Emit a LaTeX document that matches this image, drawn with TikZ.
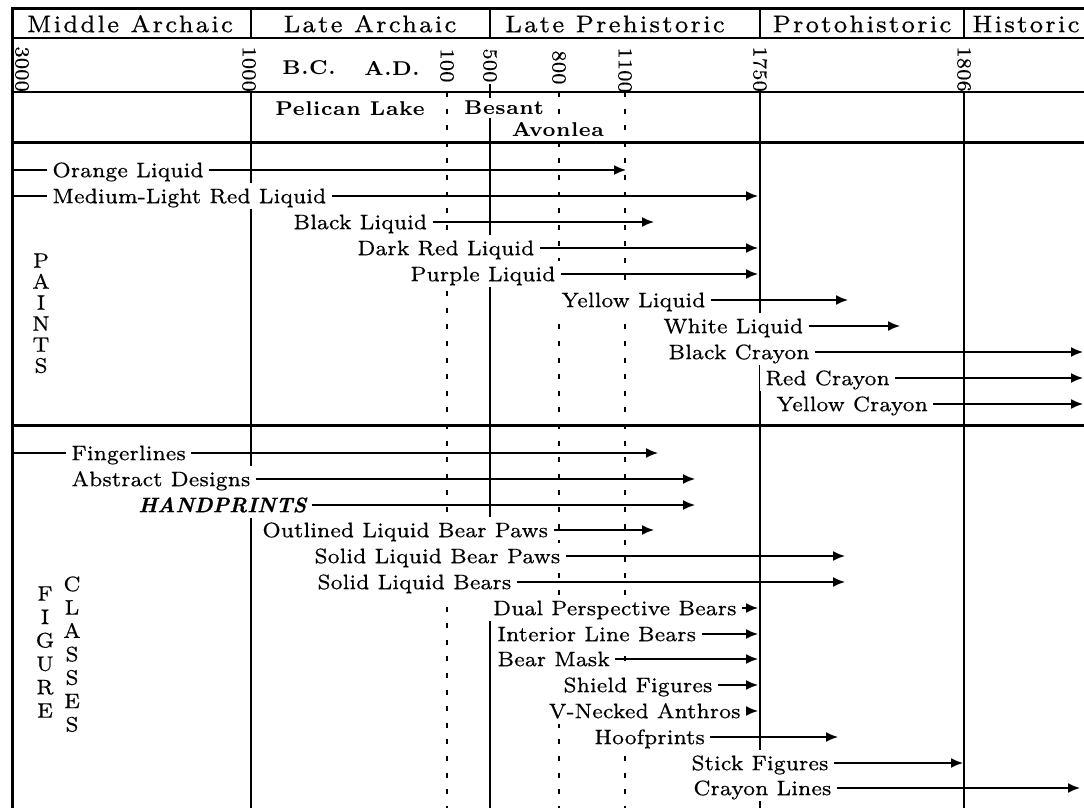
\documentclass[tikz,border=0pt]{standalone}
\usepackage{fontspec}
\setmainfont{lmroman7}[Extension=.otf,UprightFont=*-regular,BoldFont=*-bold,ItalicFont=*-italic,BoldItalicFont=lmroman10-bolditalic,FakeBold=0.5]
\newfontfamily\headfont{lmroman7}[Extension=.otf,UprightFont=*-regular,LetterSpace=8,FakeBold=0.6]
\newfontfamily\culturefont{lmroman7}[Extension=.otf,UprightFont=*-bold,LetterSpace=3]
\newfontfamily\datefont{lmroman7}[Extension=.otf,UprightFont=*-regular,FakeBold=0.5]
\usetikzlibrary{arrows.meta}

\tikzset{
  period/.style={font=\headfont\fontsize{12}{14}\selectfont, inner sep=0pt, text height=8.2pt, text depth=0pt},
  year/.style={font=\datefont\fontsize{10}{12}\selectfont, rotate=-90, anchor=west, inner sep=0pt},
  culture/.style={font=\culturefont\fontsize{10}{12}\selectfont, fill=white, inner sep=1.5pt},
  item/.style={font=\fontsize{10.5}{12}\selectfont, fill=white, anchor=west, inner xsep=2.5pt, inner ysep=0.5pt, text height=9.7pt, text depth=2.5pt},
  letters/.style={align=center, anchor=north, inner sep=0pt},
  rule/.style={line width=0.6pt},
  heavy/.style={line width=1.5pt},
  era/.style={line width=0.6pt, dash pattern=on 2.5pt off 5.8pt},
  lead/.style={line width=0.8pt},
  arrowline/.style={line width=0.8pt, -{Latex[length=6pt,width=5pt]}},
}

\begin{document}
\begin{tikzpicture}[x=0.5pt,y=-0.5pt]
  \useasboundingbox (0,0) rectangle (1084,808);

  \draw[heavy] (11,9) -- (1084,9) (12,8) -- (12,808);
  \draw[rule] (12,38) -- (1084,38) (12,92) -- (1084,92);
  \draw[heavy] (12,143) -- (1084,143) (12,426) -- (1084,426);
  \draw[rule] (251,9) -- (251,38) (251,92) -- (251,808);
  \draw[rule] (490,9) -- (490,38) (490,84) -- (490,808);
  \draw[rule] (760,9) -- (760,38) (760,92) -- (760,808);
  \draw[rule] (964,9) -- (964,38) (964,92) -- (964,808);
  \draw[era] (447,92) -- (447,808) (559,92) -- (559,808) (625,92) -- (625,808);

  \node[period] (midarch) at (130,24) {Middle Archaic};
  \node[period] (latearch) at (370,24) {Late Archaic};
  \node[period] (lateprehist) at (615,24) {Late Prehistoric};
  \node[period] (protohist) at (862,24) {Protohistoric};
  \node[period] (hist) at (1026,24) {Historic};

  \node[year] (y3000) at (22,46) {3000};
  \node[year] (y1000) at (249,46) {1000};
  \node[culture] (bc) at (309,68) {B.C.};
  \node[culture] (ad) at (392,68) {A.D.};
  \node[year] (y100) at (447,48) {100};
  \node[year] (y500) at (490,48) {500};
  \node[year] (y800) at (559,50) {800};
  \node[year] (y1100) at (625,47) {1100};
  \node[year] (y1750) at (760,46) {1750};
  \node[year] (y1806) at (964,46) {1806};

  \node[culture] (pelican) at (350,109) {Pelican Lake};
  \node[culture] (besant) at (504,108) {Besant};
  \node[culture] (avonlea) at (558,130) {Avonlea};

  \node[letters, font=\fontsize{10.5}{10.5}\selectfont] (paints) at (41,253) {P\\A\\I\\N\\T\\S};
  \node[letters, font=\fontsize{10.5}{11.7}\selectfont] (figure) at (45,586) {F\\I\\G\\U\\R\\E};
  \node[letters, font=\fontsize{10.5}{11.7}\selectfont] (classes) at (72,576) {C\\L\\A\\S\\S\\E\\S};

  \node[item] (orange) at (47,170) {Orange Liquid};
  \node[item] (medred) at (47,196) {Medium-Light Red Liquid};
  \node[item] (blackliq) at (288,222) {Black Liquid};
  \node[item] (darkred) at (352,248) {Dark Red Liquid};
  \node[item] (purple) at (405,274) {Purple Liquid};
  \node[item] (yellowliq) at (556,300) {Yellow Liquid};
  \node[item] (whiteliq) at (658,326) {White Liquid};
  \node[item] (blackcray) at (663,352) {Black Crayon};
  \node[item] (redcray) at (760,378) {Red Crayon};
  \node[item] (yellowcray) at (771,404) {Yellow Crayon};

  \coordinate (orange-s) at (12,170);
  \coordinate (medred-s) at (12,196);
  \coordinate (orange-e) at (626,170);
  \coordinate (medred-e) at (758,196);
  \coordinate (blackliq-e) at (654,222);
  \coordinate (darkred-e) at (758,248);
  \coordinate (purple-e) at (758,274);
  \coordinate (yellowliq-e) at (848,300);
  \coordinate (whiteliq-e) at (900,326);
  \coordinate (blackcray-e) at (1083,352);
  \coordinate (redcray-e) at (1083,378);
  \coordinate (yellowcray-e) at (1083,404);

  \draw[lead] (orange-s) -- (orange) (medred-s) -- (medred);
  \draw[arrowline] (orange) -- (orange-e);
  \draw[arrowline] (medred) -- (medred-e);
  \draw[arrowline] (blackliq) -- (blackliq-e);
  \draw[arrowline] (darkred) -- (darkred-e);
  \draw[arrowline] (purple) -- (purple-e);
  \draw[arrowline] (yellowliq) -- (yellowliq-e);
  \draw[arrowline] (whiteliq) -- (whiteliq-e);
  \draw[arrowline] (blackcray) -- (blackcray-e);
  \draw[arrowline] (redcray) -- (redcray-e);
  \draw[arrowline] (yellowcray) -- (yellowcray-e);

  \node[item] (finger) at (66,453) {Fingerlines};
  \node[item] (abstract) at (66,479) {Abstract Designs};
  \node[item] (hand) at (133,505) {\bfseries\itshape HANDPRINTS};
  \node[item] (outpaw) at (257,530) {Outlined Liquid Bear Paws};
  \node[item] (solpaw) at (309,556) {Solid Liquid Bear Paws};
  \node[item] (solbear) at (312,582) {Solid Liquid Bears};
  \node[item, anchor=east] (dualbear) at (742,608) {Dual Perspective Bears};
  \node[item] (intbear) at (492,634) {Interior Line Bears};
  \node[item] (mask) at (492,659) {Bear Mask};
  \node[item] (shield) at (558,685) {Shield Figures};
  \node[item, anchor=east] (vneck) at (746,711) {V-Necked Anthros};
  \node[item] (hoof) at (589,737) {Hoofprints};
  \node[item] (stick) at (686,763) {Stick Figures};
  \node[item] (craylines) at (688,788) {Crayon Lines};

  \coordinate (finger-s) at (12,453);
  \coordinate (finger-e) at (658,453);
  \coordinate (abstract-e) at (695,479);
  \coordinate (hand-e) at (695,505);
  \coordinate (outpaw-e) at (654,530);
  \coordinate (solpaw-e) at (845,556);
  \coordinate (solbear-e) at (845,582);
  \coordinate (dualbear-e) at (758,608);
  \coordinate (intbear-e) at (758,634);
  \coordinate (mask-e) at (758,659);
  \coordinate (shield-e) at (758,685);
  \coordinate (vneck-e) at (758,711);
  \coordinate (hoof-e) at (838,737);
  \coordinate (stick-e) at (963,763);
  \coordinate (craylines-e) at (1080,788);

  \draw[lead] (finger-s) -- (finger);
  \draw[arrowline] (finger) -- (finger-e);
  \draw[arrowline] (abstract) -- (abstract-e);
  \draw[arrowline] (hand) -- (hand-e);
  \draw[arrowline] (outpaw) -- (outpaw-e);
  \draw[arrowline] (solpaw) -- (solpaw-e);
  \draw[arrowline] (solbear) -- (solbear-e);
  \draw[arrowline] (dualbear) -- (dualbear-e);
  \draw[arrowline] (intbear) -- (intbear-e);
  \draw[arrowline] (mask) -- (mask-e);
  \draw[arrowline] (shield) -- (shield-e);
  \draw[arrowline] (vneck) -- (vneck-e);
  \draw[arrowline] (hoof) -- (hoof-e);
  \draw[arrowline] (stick) -- (stick-e);
  \draw[arrowline] (craylines) -- (craylines-e);
\end{tikzpicture}
\end{document}
